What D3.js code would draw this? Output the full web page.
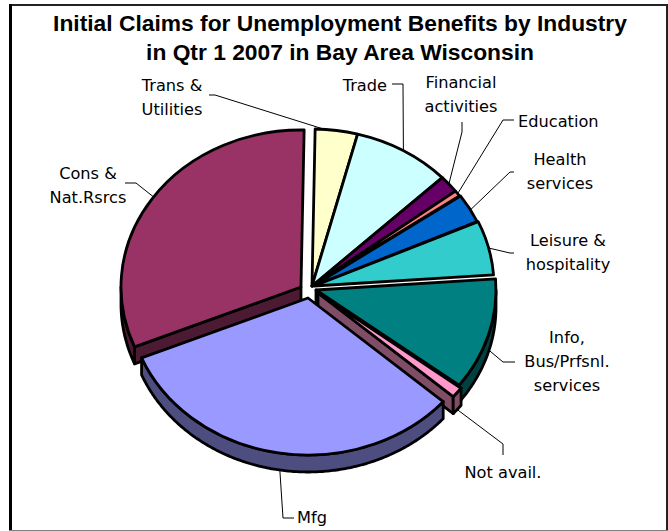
<!DOCTYPE html>
<html>
<head>
<meta charset="utf-8">
<script src="https://cdn.jsdelivr.net/npm/d3@7"></script>
<style>
html, body { margin: 0; padding: 0; background: #fff; }
svg { display: block; }
.title { font: bold 22.8px "Liberation Sans", Arial, sans-serif; text-anchor: middle; }
.label { font: 16.2px "DejaVu Sans", Tahoma, sans-serif; fill: #000; }
</style>
</head>
<body>
<svg id="chart" width="668" height="531"></svg>
<script>
var categories = ["Trans & Utilities", "Trade", "Financial activities", "Education", "Health services",
	"Leisure & hospitality", "Info, Bus/Prfsnl. services", "Not avail.", "Mfg", "Cons & Nat.Rsrcs"];
var shares = [3.8, 8.8, 1.8, 0.6, 3.0, 5.6, 11.5, 1.1, 32.3, 31.5];
var topColors = ["#FFFFCC", "#CCFFFF", "#660066", "#FF8080", "#0066CC", "#33CCCC", "#008080", "#FF99CC", "#9999FF", "#993366"];

// how far each slice was pulled out of the pie, in px
var shiftX = [0, 0, 0, 0, 1, 2, 4, 6, -4, -11];
var shiftY = [0, 0, 0, 0, 0, 0, 4, 7, 12, 1];

// label text and leader elbows, one entry per slice
var labelLines = [["Trans &", "Utilities"], ["Trade"], ["Financial", "activities"], ["Education"], ["Health", "services"],
	["Leisure &", "hospitality"], ["Info,", "Bus/Prfsnl.", "services"], ["Not avail."], ["Mfg"], ["Cons &", "Nat.Rsrcs"]];
var labelX = [172, 387, 461, 518, 560, 568, 567, 503, 297, 88];
var labelY = [85, 85, 82, 121, 159, 240, 337, 472, 517, 173];
var labelAnchor = ["middle", "end", "middle", "start", "middle", "middle", "middle", "middle", "start", "middle"];
var leaderElbows = [[[215, 95], [209, 95]], [[403, 84], [392, 84]], [[462, 132], [462, 122]], [[503, 120], [514, 120]],
	[[510, 172], [514, 172]], [[510, 253], [514, 253]], [[503, 362], [515, 362]], [[503, 444], [503, 455]],
	[[283, 518], [294, 518]], [[136, 183], [125, 183]]];
var leaderAngle = [4, null, 49.5, 54, 61, 76, 106, null, 189, 305];

var cx = 312, cy = 286, rx = 180, ry = 157, depth = 17;
var frontToBack = [0, 1, 2, 3, 4, 5, 9, 6, 7, 8];

var svg = d3.select("#chart");

// frame, heavier on the left and top like the original
svg.append("path").attr("d", "M10.5,531V5H667V531").attr("fill", "none").attr("stroke", "#222").attr("stroke-width", 2);
svg.append("rect").attr("x", 9).attr("y", 4).attr("width", 3).attr("height", 527).attr("fill", "#000");
svg.append("rect").attr("x", 9).attr("y", 530).attr("width", 659).attr("height", 1).attr("fill", "#808080");

svg.append("text").attr("class", "title").attr("x", 340).attr("y", 31).text("Initial Claims for Unemployment Benefits by Industry");
svg.append("text").attr("class", "title").attr("x", 340).attr("y", 60).text("in Qtr 1 2007 in Bay Area Wisconsin");

var pie = d3.pie().sort(null)
	.startAngle(Math.PI / 180)
	.endAngle(Math.PI / 180 * 361);
var arcs = pie(shares);

var arc = d3.arc().innerRadius(0).outerRadius(rx);

// point on the flattened rim, angle clockwise from 12 o'clock
function rimPoint(a, i) {
	return [cx + shiftX[i] + rx * Math.sin(a), cy + shiftY[i] - ry * Math.cos(a)];
}

var line = d3.line();

frontToBack.forEach(function(i) {
	var d = arcs[i];
	var g = svg.append("g");
	var c = d3.rgb(topColors[i]);
	var side = d3.rgb(c.r / 2, c.g / 2, c.b / 2).formatHex();
	var apex = [cx + shiftX[i], cy + shiftY[i]];

	// cut faces turned towards the viewer
	[d.startAngle, d.endAngle].forEach(function(a, k) {
		var deg = a * 180 / Math.PI;
		var seen = (k == 0 && deg > 180 && deg < 270) || (k == 1 && deg > 90 && deg < 180);
		if (!seen) return;
		var p = rimPoint(a, i);
		g.append("path")
			.attr("d", line([apex, p, [p[0], p[1] + depth], [apex[0], apex[1] + depth]]) + "Z")
			.attr("fill", side).attr("stroke", "#000").attr("stroke-width", 2.8).attr("stroke-linejoin", "round");
	});

	// outer wall, lower half of the ellipse only
	var from = Math.max(d.startAngle, Math.PI / 2), to = Math.min(d.endAngle, Math.PI * 3 / 2);
	if (from < to) {
		var rim = d3.range(from, to, 0.01).concat([to]).map(function(a) { return rimPoint(a, i); });
		var low = rim.map(function(p) { return [p[0], p[1] + depth]; }).reverse();
		g.append("path").attr("d", line(rim.concat(low)) + "Z")
			.attr("fill", side).attr("stroke", "#000").attr("stroke-width", 2.8).attr("stroke-linejoin", "round");
	}

	// top face
	g.append("path")
		.attr("d", arc(d))
		.attr("transform", "translate(" + apex[0] + "," + apex[1] + ") scale(1," + (ry / rx) + ")")
		.attr("fill", topColors[i]).attr("stroke", "#000").attr("stroke-width", 2.8)
		.attr("stroke-linejoin", "round").attr("vector-effect", "non-scaling-stroke");
});

// labels and leader lines
categories.forEach(function(c, i) {
	var a = leaderAngle[i] == null ? (arcs[i].startAngle + arcs[i].endAngle) / 2 : leaderAngle[i] * Math.PI / 180;
	var p = rimPoint(a, i);
	if (a > Math.PI / 2 && a < Math.PI * 1.5) p = [p[0], p[1] + depth];
	svg.append("path").attr("d", line([p].concat(leaderElbows[i])))
		.attr("fill", "none").attr("stroke", "#000").attr("stroke-width", 1);
	var t = svg.append("text").attr("class", "label").attr("text-anchor", labelAnchor[i]);
	labelLines[i].forEach(function(s, k) {
		t.append("tspan").attr("x", labelX[i]).attr("y", labelY[i] + 6 + k * 24).text(s);
	});
});
</script>
</body>
</html>
